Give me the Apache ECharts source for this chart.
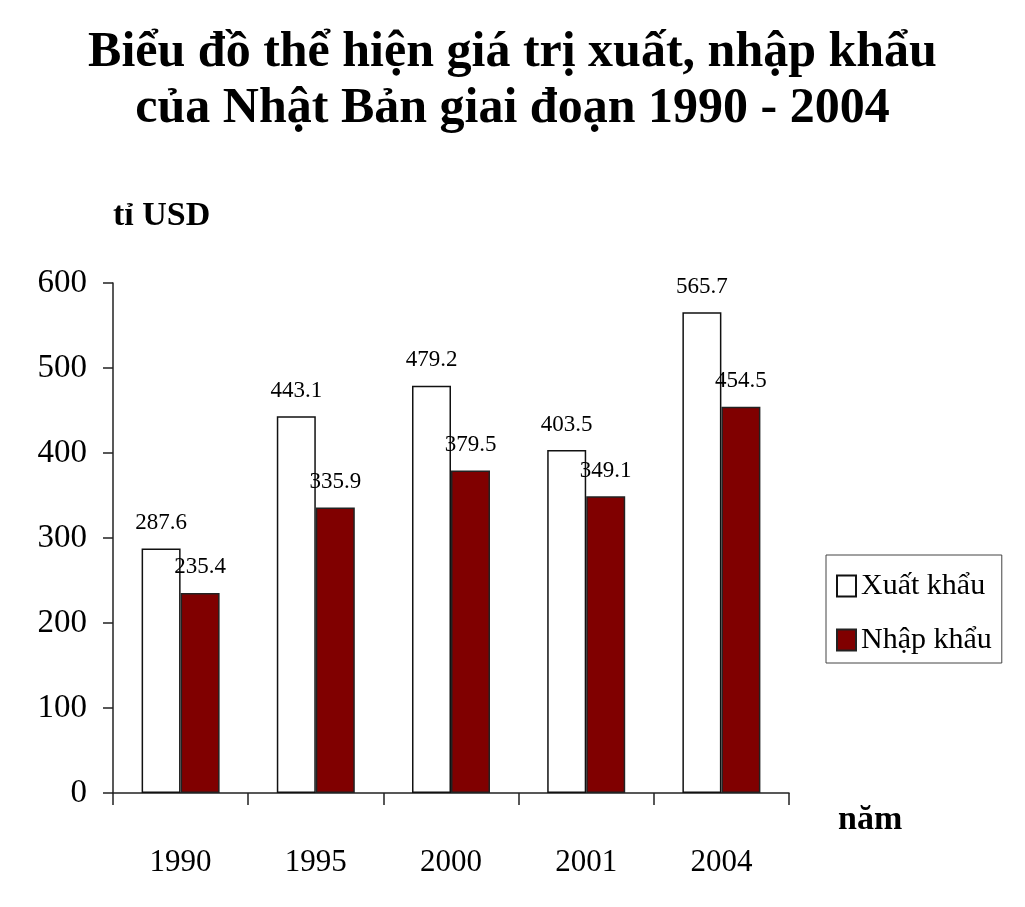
<!DOCTYPE html>
<html>
<head>
<meta charset="utf-8">
<script src="https://cdn.jsdelivr.net/npm/echarts@6/dist/echarts.min.js"></script>
<style>
  html, body { margin: 0; padding: 0; background: #fff; }
  #chart { width: 1025px; height: 907px; }
</style>
</head>
<body>
<div id="chart"></div>
<script>
	// số liệu
	var years = ['1990', '1995', '2000', '2001', '2004'];
	var xuatKhau = [287.6, 443.1, 479.2, 403.5, 565.7];
	var nhapKhau = [235.4, 335.9, 379.5, 349.1, 454.5];
	var yTicks = [0, 100, 200, 300, 400, 500, 600];

	var serif = 'Liberation Serif';
	var chart = echarts.init(document.getElementById('chart'));

	var labelStyle = {
		show: true,
		position: 'top',
		distance: 14,
		fontFamily: serif,
		fontSize: 23,
		color: '#000'
	};

	var option = {
		backgroundColor: '#fff',
		animation: false,
		title: {
			text: 'Biểu đồ thể hiện giá trị xuất, nhập khẩu\ncủa Nhật Bản giai đoạn 1990 - 2004',
			left: 'center',
			top: 20,
			textStyle: {
				fontFamily: serif,
				fontSize: 50,
				fontWeight: 'bold',
				lineHeight: 56,
				color: '#000'
			}
		},
		legend: {
			orient: 'vertical',
			left: 826,
			top: 555,
			padding: [16, 10, 8, 10],
			itemGap: 24,
			itemWidth: 19,
			itemHeight: 21,
			icon: 'rect',
			borderColor: '#444',
			borderWidth: 1,
			textStyle: {
				fontFamily: serif,
				fontSize: 30,
				color: '#000'
			},
			data: ['Xuất khẩu', 'Nhập khẩu']
		},
		grid: {
			left: 113,
			right: 236,
			top: 283,
			bottom: 114
		},
		xAxis: {
			type: 'category',
			data: years,
			name: 'năm',
			nameLocation: 'end',
			nameGap: 49,
			nameTextStyle: {
				fontFamily: serif,
				fontSize: 34,
				fontWeight: 'bold',
				color: '#000',
				verticalAlign: 'top',
				padding: [10, 0, 0, 0]
			},
			axisLine: { lineStyle: { color: '#222', width: 1.5 } },
			axisTick: { show: true, length: 12, lineStyle: { color: '#222', width: 1.5 } },
			axisLabel: {
				margin: 54,
				fontFamily: serif,
				fontSize: 31,
				color: '#000'
			}
		},
		yAxis: {
			type: 'value',
			min: yTicks[0],
			max: yTicks[yTicks.length - 1],
			interval: 100,
			name: 'tỉ USD',
			nameLocation: 'end',
			nameGap: 50,
			nameTextStyle: {
				fontFamily: serif,
				fontSize: 34,
				fontWeight: 'bold',
				color: '#000',
				align: 'left'
			},
			splitLine: { show: false },
			axisLine: { show: true, lineStyle: { color: '#222', width: 1.5 } },
			axisTick: { show: true, length: 10, lineStyle: { color: '#222', width: 1.5 } },
			axisLabel: {
				margin: 26,
				fontFamily: serif,
				fontSize: 33,
				color: '#000'
			}
		},
		series: [
			{
				name: 'Xuất khẩu',
				type: 'bar',
				data: xuatKhau,
				barWidth: 39,
				barGap: '0%',
				itemStyle: { color: '#fff', borderColor: '#111', borderWidth: 1.5 },
				label: labelStyle
			},
			{
				name: 'Nhập khẩu',
				type: 'bar',
				data: nhapKhau,
				barWidth: 39,
				barGap: '0%',
				itemStyle: { color: '#800000', borderColor: '#222', borderWidth: 1.5 },
				label: labelStyle
			}
		]
	};
	chart.setOption(option);
</script>
</body>
</html>
